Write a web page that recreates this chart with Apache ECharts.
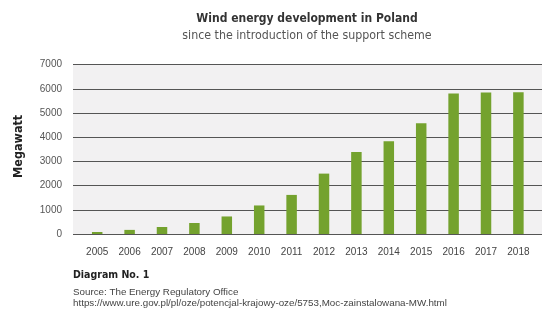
<!DOCTYPE html>
<html><head><meta charset="utf-8">
<script src="https://cdn.jsdelivr.net/npm/echarts@6/dist/echarts.min.js"></script>
<style>html,body{margin:0;padding:0;background:#fff}#c{width:554px;height:321px}</style>
</head><body><div id="c"></div>
<script>
const years = ['2005','2006','2007','2008','2009','2010','2011','2012','2013','2014','2015','2016','2017','2018'];
const megawatt = [83, 170, 290, 455, 725, 1180, 1616, 2497, 3390, 3834, 4582, 5807, 5848, 5864];
const yTicks = {min: 0, max: 7000, interval: 1000};
const titleText = 'Wind energy development in Poland';
const subtitleText = 'since the introduction of the support scheme';
const yName = 'Megawatt';
const noteTitle = 'Diagram No. 1';
const noteLines = ['Source: The Energy Regulatory Office', 'https://www.ure.gov.pl/pl/oze/potencjal-krajowy-oze/5753,Moc-zainstalowana-MW.html'];

const cond = '"DejaVu Sans Condensed", sans-serif';
const sans = '"Liberation Sans", Arial, sans-serif';
const chart = echarts.init(document.getElementById('c'), null, {renderer: 'canvas'});
chart.setOption({
  backgroundColor: '#fff',
  animation: false,
  title: [{
    text: titleText, left: 307, top: 12.5, textAlign: 'center', padding: 0,
    textStyle: {fontFamily: cond, fontWeight: 'bold', fontSize: 12, color: '#333'}
  }, {
    text: subtitleText, left: 307, top: 30, textAlign: 'center', padding: 0,
    textStyle: {fontFamily: cond, fontWeight: 'normal', fontSize: 12.3, color: '#555'}
  }, {
    text: noteTitle, left: 73, top: 270, padding: 0,
    textStyle: {fontFamily: cond, fontWeight: 'bold', fontSize: 10.5, color: '#222'}
  }, {
    text: noteLines.join('\n'), left: 73, top: 286.5, padding: 0,
    textStyle: {fontFamily: sans, fontWeight: 'normal', fontSize: 9.8, lineHeight: 11, color: '#444'}
  }],
  grid: [
    {left: 73, right: 12, top: 64.7, bottom: 87, show: true, backgroundColor: '#f2f1f2', borderWidth: 0},
    {left: 81, right: 19.4, top: 64.7, bottom: 87}
  ],
  xAxis: [{
    gridIndex: 0, type: 'category', data: years, show: false
  }, {
    gridIndex: 1, type: 'category', data: years,
    axisLine: {show: false},
    axisTick: {show: false},
    axisLabel: {color: '#444', fontSize: 10, fontFamily: sans, margin: 13}
  }],
  yAxis: [{
    gridIndex: 0, type: 'value', min: yTicks.min, max: yTicks.max, interval: yTicks.interval,
    name: yName, nameLocation: 'middle', nameGap: 48, nameRotate: 90,
    nameTextStyle: {fontFamily: cond, fontWeight: 'bold', fontSize: 12.5, color: '#222', padding: [0, 0, 0, 6]},
    axisLine: {show: false}, axisTick: {show: false},
    axisLabel: {color: '#555', fontSize: 10, fontFamily: sans, margin: 11, formatter: v => String(v)},
    splitLine: {lineStyle: {color: '#555', width: 1}}
  }, {
    gridIndex: 1, type: 'value', min: yTicks.min, max: yTicks.max, interval: yTicks.interval, show: false,
    splitLine: {show: false}
  }],
  series: [{
    type: 'bar', xAxisIndex: 1, yAxisIndex: 1, data: megawatt, barWidth: 10.5,
    itemStyle: {color: '#74a22e'}
  }]
});
</script></body></html>
